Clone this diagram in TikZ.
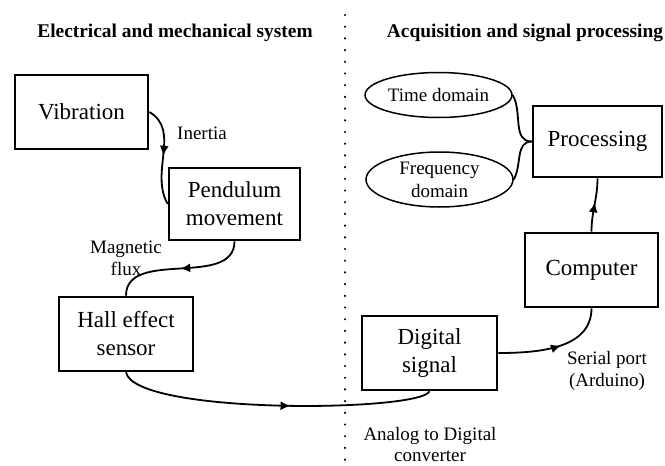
\documentclass[tikz,border=0pt]{standalone}
\usepackage{fontspec}
\setmainfont{Liberation Serif}
\usetikzlibrary{arrows.meta,decorations.markings,shapes.geometric}

\begin{document}
\begin{tikzpicture}[x=1pt,y=-1pt,
   blk/.style={draw,line width=2.6pt,inner sep=0pt,align=center,
               font=\fontsize{23}{28}\selectfont},
   oval/.style={ellipse,draw,line width=1.5pt,inner sep=0pt,align=center,
                font=\fontsize{19}{23}\selectfont},
   lbl/.style={align=center,font=\fontsize{19}{22}\selectfont},
   ttl/.style={font=\bfseries\fontsize{19.4}{22}\selectfont},
   link/.style={line width=1.8pt},
   mid/.style={postaction={decorate,decoration={markings,
               mark=at position #1 with {\arrow{Latex[length=10pt,width=9pt]}}}}}]
   \useasboundingbox (0,0) rectangle (665,466);
   % titles and separator
   \node[ttl] (tl) at (175,33) {Electrical and mechanical system};
   \node[ttl] (tr) at (525,33) {Acquisition and signal processing};
   \coordinate (sa) at (345,15);
   \coordinate (sb) at (345,466);
   \draw[line width=2.4pt,line cap=round,dash pattern=on 0pt off 11.7pt] (sa) -- (sb);
   % left side
   \node[blk,minimum width=133pt,minimum height=74pt] (vib) at (81.5,112) {Vibration};
   \node[blk,minimum width=131pt,minimum height=72pt] (pend) at (234.5,204) {Pendulum\\movement};
   \node[blk,minimum width=134pt,minimum height=74pt] (hall) at (126,334) {Hall effect\\sensor};
   \node[lbl] (iner) at (202,133) {Inertia};
   \node[lbl] (flux) at (126,258) {Magnetic\\flux};
   % right side
   \node[blk,minimum width=135pt,minimum height=74pt] (dig) at (429.5,353) {Digital\\signal};
   \node[blk,minimum width=133pt,minimum height=74pt] (comp) at (591.5,270) {Computer};
   \node[blk,minimum width=129pt,minimum height=71pt] (proc) at (597.5,141.5) {Processing};
   \node[oval,minimum width=147pt,minimum height=45pt] (time) at (438.5,95) {Time domain};
   \node[oval,minimum width=147pt,minimum height=55pt] (freq) at (439.5,179.5) {Frequency\\domain};
   \node[lbl] (ser) at (607,371) {Serial port\\(Arduino)};
   \node[lbl,font=\fontsize{19}{21}\selectfont] (adc) at (430,444) {Analog to Digital\\converter};
   % connectors
   \draw[link,mid=0.5] (vib.east) to[out=-30,in=120] (pend.west);
   \draw[link,mid=0.5] (pend.south) to[out=-90,in=90] (hall.north);
   \draw[link,mid=0.55] (hall.south) .. controls (135,415) and (420,412) .. (dig.south);
   \draw[link,mid=0.55] (dig.east) to[out=0,in=-90] (comp.south);
   \draw[link,mid=0.55] (comp.north) to[out=90,in=-90] (proc.south);
   \draw[link] (time.east) to[out=-60,in=180] (proc.west);
   \draw[link] (freq.east) to[out=60,in=180] (proc.west);
\end{tikzpicture}
\end{document}
